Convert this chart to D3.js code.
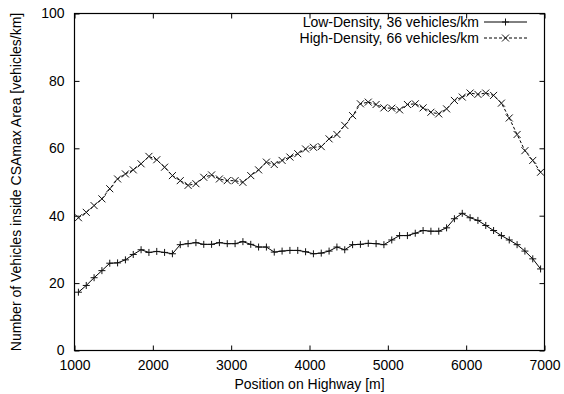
<!DOCTYPE html>
<html>
<head>
<meta charset="utf-8">
<script src="https://cdn.jsdelivr.net/npm/d3@7"></script>
<style>
  html, body { margin: 0; padding: 0; background: #fff; }
  svg { display: block; font-family: "Liberation Sans", Arial, Helvetica, sans-serif; }
</style>
</head>
<body>
<svg id="chart" width="564" height="394"></svg>
<script>
// Sample positions along the highway [m]
const positions = [1050, 1150, 1250, 1350, 1450, 1550, 1650, 1750, 1850, 1950,
                   2050, 2150, 2250, 2350, 2450, 2550, 2650, 2750, 2850, 2950,
                   3050, 3150, 3250, 3350, 3450, 3550, 3650, 3750, 3850, 3950,
                   4050, 4150, 4250, 4350, 4450, 4550, 4650, 4750, 4850, 4950,
                   5050, 5150, 5250, 5350, 5450, 5550, 5650, 5750, 5850, 5950,
                   6050, 6150, 6250, 6350, 6450, 6550, 6650, 6750, 6850, 6950];

// Vehicles inside the CSAmax area, low-density traffic (36 vehicles/km)
const lowDensity = [17.3, 19.3, 21.6, 23.7, 25.9, 26.0, 26.9, 28.5, 29.9, 29.1,
                    29.4, 29.1, 28.7, 31.4, 31.7, 32.0, 31.5, 31.5, 32.0, 31.7,
                    31.7, 32.3, 31.5, 30.7, 30.7, 29.2, 29.5, 29.7, 29.7, 29.3,
                    28.7, 28.9, 29.5, 30.7, 29.9, 31.4, 31.5, 31.8, 31.7, 31.4,
                    32.8, 34.1, 34.1, 34.8, 35.6, 35.4, 35.4, 36.4, 39.1, 40.7,
                    39.4, 38.6, 37.1, 35.6, 34.1, 32.8, 31.4, 29.5, 27.2, 24.2];

// Vehicles inside the CSAmax area, high-density traffic (66 vehicles/km)
const highDensity = [39.4, 41.0, 43.0, 45.0, 48.0, 50.9, 52.4, 53.6, 55.4, 57.6,
                     56.6, 54.4, 51.9, 50.4, 49.0, 49.5, 51.4, 52.1, 50.9, 50.4,
                     50.4, 49.9, 51.9, 53.6, 55.9, 55.2, 56.4, 57.4, 58.4, 59.8,
                     60.3, 60.5, 62.8, 64.1, 66.8, 69.7, 73.2, 73.7, 73.0, 72.0,
                     71.9, 71.4, 73.0, 73.2, 72.0, 70.7, 70.2, 71.7, 74.2, 75.2,
                     76.4, 76.0, 76.4, 75.7, 73.4, 69.0, 64.1, 59.3, 56.4, 52.9];

const xTicks = [1000, 2000, 3000, 4000, 5000, 6000, 7000];
const yTicks = [0, 20, 40, 60, 80, 100];

const seriesNames = ["Low-Density, 36 vehicles/km", "High-Density, 66 vehicles/km"];

const svg = d3.select("#chart");
const plotLeft = 74.5, plotRight = 544.5, plotTop = 13.5, plotBottom = 350.5;

const x = d3.scaleLinear().domain([1000, 7000]).range([plotLeft, plotRight]);
const y = d3.scaleLinear().domain([0, 100]).range([plotBottom, plotTop]);

const fontSize = 14;
const tickLen = 5;

// Axes: labels on bottom/left, inward ticks mirrored on all four sides
const gx = svg.append("g").attr("transform", `translate(0,${plotBottom})`)
  .call(d3.axisBottom(x).tickValues(xTicks).tickSize(-tickLen).tickPadding(10).tickFormat(d3.format("d")));
const gxTop = svg.append("g").attr("transform", `translate(0,${plotTop})`)
  .call(d3.axisTop(x).tickValues(xTicks).tickSize(-tickLen).tickFormat(""));
const gy = svg.append("g").attr("transform", `translate(${plotLeft},0)`)
  .call(d3.axisLeft(y).tickValues(yTicks).tickSize(-tickLen).tickPadding(10));
const gyRight = svg.append("g").attr("transform", `translate(${plotRight},0)`)
  .call(d3.axisRight(y).tickValues(yTicks).tickSize(-tickLen).tickFormat(""));

[gx, gxTop, gy, gyRight].forEach(g => {
  g.select(".domain").remove();
  g.selectAll(".tick line").attr("stroke", "#000").attr("stroke-width", 1);
  g.selectAll("text").attr("fill", "#000").attr("font-size", fontSize)
    .attr("font-family", "Liberation Sans, Arial, sans-serif");
});

// Plot border
svg.append("rect")
  .attr("x", plotLeft).attr("y", plotTop)
  .attr("width", plotRight - plotLeft).attr("height", plotBottom - plotTop)
  .attr("fill", "none").attr("stroke", "#000").attr("stroke-width", 1.2);

// Axis titles
svg.append("text")
  .attr("x", (plotLeft + plotRight) / 2).attr("y", 389)
  .attr("text-anchor", "middle").attr("font-size", fontSize)
  .text("Position on Highway [m]");

svg.append("text")
  .attr("transform", `translate(21,${(plotTop + plotBottom) / 2}) rotate(-90)`)
  .attr("text-anchor", "middle").attr("font-size", fontSize)
  .text("Number of Vehicles inside CSAmax Area [vehicles/km]");

const line = d3.line().x(d => x(d[0])).y(d => y(d[1]));
const lowPts = positions.map((p, i) => [p, lowDensity[i]]);
const highPts = positions.map((p, i) => [p, highDensity[i]]);

const ms = 3.5; // marker half-size

function plusPath(cx, cy) {
  return `M${cx - ms},${cy}H${cx + ms}M${cx},${cy - ms}V${cy + ms}`;
}
function crossPath(cx, cy) {
  return `M${cx - ms},${cy - ms}L${cx + ms},${cy + ms}M${cx - ms},${cy + ms}L${cx + ms},${cy - ms}`;
}

// Low-density series: solid line with plus markers
svg.append("path").datum(lowPts)
  .attr("d", line).attr("fill", "none").attr("stroke", "#000").attr("stroke-width", 1);
svg.append("path")
  .attr("d", lowPts.map(d => plusPath(x(d[0]), y(d[1]))).join(""))
  .attr("fill", "none").attr("stroke", "#111").attr("stroke-width", 1);

// High-density series: dashed line with cross markers
svg.append("path").datum(highPts)
  .attr("d", line).attr("fill", "none").attr("stroke", "#000").attr("stroke-width", 1)
  .attr("stroke-dasharray", "3,2");
svg.append("path")
  .attr("d", highPts.map(d => crossPath(x(d[0]), y(d[1]))).join(""))
  .attr("fill", "none").attr("stroke", "#111").attr("stroke-width", 1);

// Legend
const legX1 = 484, legX2 = 527, legTextX = 479;
const legRows = [27, 43];
seriesNames.forEach((name, i) => {
  const ly = legRows[i];
  svg.append("text").attr("x", legTextX).attr("y", ly)
    .attr("text-anchor", "end").attr("font-size", fontSize).text(name);
  const cy = ly - 5;
  svg.append("line").attr("x1", legX1).attr("x2", legX2).attr("y1", cy).attr("y2", cy)
    .attr("stroke", "#000").attr("stroke-width", 1)
    .attr("stroke-dasharray", i === 1 ? "3,2" : null);
  const cx = (legX1 + legX2) / 2;
  svg.append("path").attr("d", i === 0 ? plusPath(cx, cy) : crossPath(cx, cy))
    .attr("fill", "none").attr("stroke", "#111").attr("stroke-width", 1);
});
</script>
</body>
</html>
